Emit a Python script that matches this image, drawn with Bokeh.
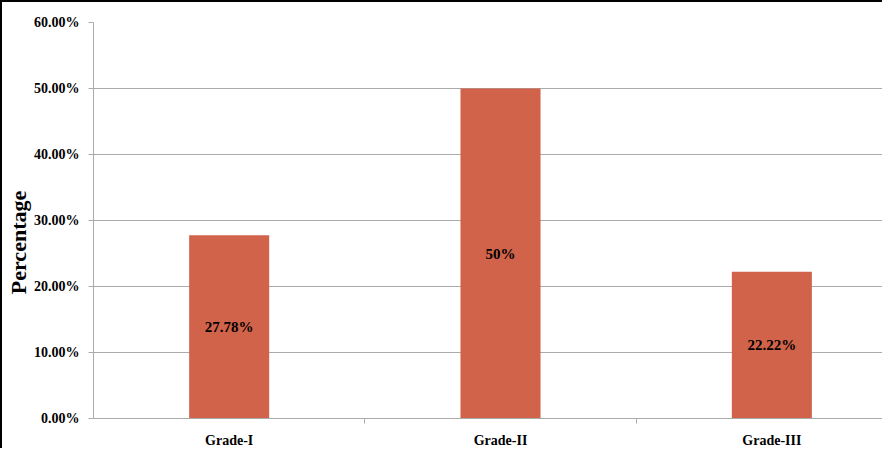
from bokeh.plotting import figure
from bokeh.models import FixedTicker, NumeralTickFormatter, Range1d, ColumnDataSource
from bokeh.core.properties import value
from bokeh.embed import file_html
from bokeh.resources import INLINE

categories = ["Grade-I", "Grade-II", "Grade-III"]
percentages = [27.78, 50.0, 22.22]
bar_labels = ["27.78%", "50%", "22.22%"]
y_ticks = [0.0, 0.1, 0.2, 0.3, 0.4, 0.5, 0.6]
y_title = "Percentage"

FONT = "Liberation Serif"
BAR_COLOR = "#D0634A"
GRID = "#ABABAB"

W, H = 882, 448
LEFT, TOP, BOTTOM = 90, 20, 30
CAT_PX = 271.0

xs = [i + 0.5 for i in range(len(categories))]
fr = [v / 100.0 for v in percentages]
src = ColumnDataSource(dict(x=xs, top=fr, mid=[f / 2 for f in fr], label=bar_labels))

p = figure(width=W, height=H, output_backend="svg", toolbar_location=None,
           x_range=Range1d(0, (W - 2 - LEFT) / CAT_PX), y_range=Range1d(0, 0.6),
           min_border_left=LEFT, min_border_right=0, min_border_top=TOP,
           min_border_bottom=BOTTOM)
p.styles = {"border-left": "2px solid black", "border-top": "2px solid black"}
p.outline_line_color = None
p.background_fill_color = "white"
p.border_fill_color = "white"

p.vbar(x="x", top="top", width=0.295, source=src, fill_color=BAR_COLOR,
       line_color=None)
p.text(x="x", y="mid", text="label", source=src, text_align="center",
       text_baseline="middle", text_font=value(FONT), text_font_style="bold",
       text_font_size="15px", text_color="black")

# x axis
p.xaxis.ticker = FixedTicker(ticks=xs, minor_ticks=list(range(1, len(categories))))
p.xaxis.major_label_overrides = {x: c for x, c in zip(xs, categories)}
p.xaxis.major_tick_out = 0
p.xaxis.major_tick_in = 0
p.xaxis.minor_tick_out = 5
p.xaxis.minor_tick_in = 0
p.xaxis.minor_tick_line_color = GRID
p.xaxis.axis_line_color = GRID
p.xaxis.major_label_text_font = FONT
p.xaxis.major_label_text_font_style = "bold"
p.xaxis.major_label_text_font_size = "14px"
p.xaxis.major_label_text_color = "black"
p.xaxis.major_label_standoff = 9
p.xgrid.visible = False

# y axis
p.yaxis.ticker = FixedTicker(ticks=y_ticks, minor_ticks=[])
p.yaxis.formatter = NumeralTickFormatter(format="0.00%")
# trailing no-break spaces push the title below the frame centre, as in the original
p.yaxis.axis_label = y_title + "\u00a0" * 8
p.yaxis.axis_label_text_font = FONT
p.yaxis.axis_label_text_font_style = "bold"
p.yaxis.axis_label_text_font_size = "22px"
p.yaxis.axis_label_text_color = "black"
p.yaxis.axis_label_standoff = 0
p.yaxis.major_label_text_font = FONT
p.yaxis.major_label_text_font_style = "bold"
p.yaxis.major_label_text_font_size = "14px"
p.yaxis.major_label_text_color = "black"
p.yaxis.major_label_standoff = 9
p.yaxis.major_tick_out = 5
p.yaxis.major_tick_in = 0
p.yaxis.minor_tick_line_color = None
p.yaxis.major_tick_line_color = GRID
p.yaxis.axis_line_color = GRID
p.ygrid.grid_line_color = GRID
p.ygrid.grid_line_width = 1

open("out.html", "w").write(file_html(p, INLINE))
